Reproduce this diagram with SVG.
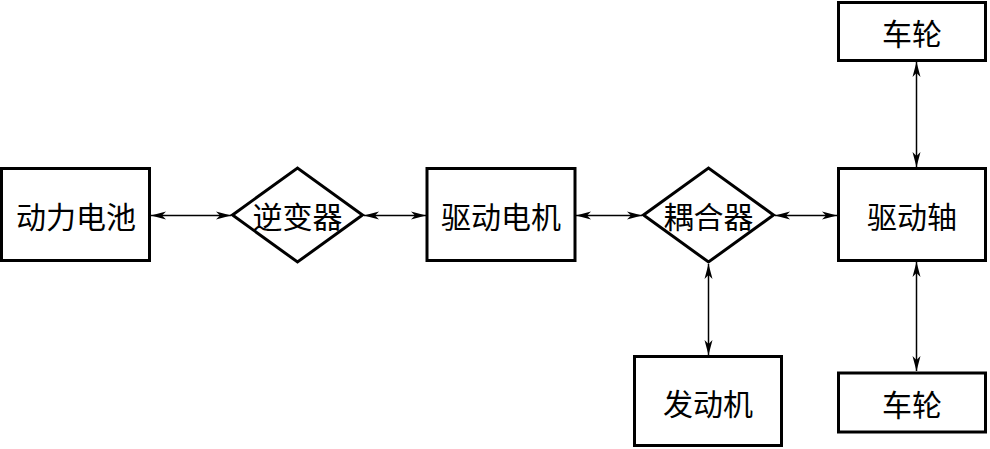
<svg xmlns="http://www.w3.org/2000/svg" width="990" height="449" viewBox="0 0 990 449">
<style>
.box{fill:#fff;stroke:#000;stroke-width:3}
.lbl{font-family:"Noto Sans CJK SC","Noto Sans CJK TC",sans-serif;font-size:30px;fill:#000;text-anchor:middle;dominant-baseline:central}
.con{stroke:#000;stroke-width:1.5;fill:none;marker-start:url(#ah);marker-end:url(#ah)}
</style>
<defs>
<marker id="ah" viewBox="0 -4.5 15 9" refX="15" refY="0" markerWidth="15" markerHeight="9" markerUnits="userSpaceOnUse" orient="auto-start-reverse">
<path d="M0,-4 L15,0 L0,4 L4,0 Z" fill="#000"/>
</marker>
</defs>
<rect width="990" height="449" fill="#fff"/>
<g id="connectors">
<line class="con" x1="151" y1="215.5" x2="231" y2="215.5"/>
<line class="con" x1="364" y1="215.5" x2="426" y2="215.5"/>
<line class="con" x1="576" y1="215.5" x2="642" y2="215.5"/>
<line class="con" x1="775" y1="215.5" x2="837" y2="215.5"/>
<line class="con" x1="916.5" y1="62" x2="916.5" y2="167"/>
<line class="con" x1="916.5" y1="262" x2="916.5" y2="371"/>
<line class="con" x1="708.5" y1="264" x2="708.5" y2="355"/>
</g>
<g id="battery">
<rect class="box" x="1.5" y="168.5" width="148" height="92"/>
<text class="lbl" x="76" y="215">动力电池</text>
</g>
<g id="inverter">
<polygon class="box" points="232.5,215 297.5,168 362.5,215 297.5,262"/>
<text class="lbl" x="297.5" y="215">逆变器</text>
</g>
<g id="motor">
<rect class="box" x="427" y="168.5" width="148" height="92"/>
<text class="lbl" x="501" y="215">驱动电机</text>
</g>
<g id="coupler">
<polygon class="box" points="643.5,215 708.5,168 773.5,215 708.5,262"/>
<text class="lbl" x="708.5" y="215">耦合器</text>
</g>
<g id="shaft">
<rect class="box" x="838.5" y="168.5" width="147" height="92"/>
<text class="lbl" x="912" y="215">驱动轴</text>
</g>
<g id="wheel-top">
<rect class="box" x="838.5" y="2.5" width="147" height="58"/>
<text class="lbl" x="912" y="32">车轮</text>
</g>
<g id="wheel-bottom">
<rect class="box" x="838.5" y="373" width="147" height="59"/>
<text class="lbl" x="912" y="403">车轮</text>
</g>
<g id="engine">
<rect class="box" x="634.5" y="356.5" width="147" height="89"/>
<text class="lbl" x="708" y="402">发动机</text>
</g>
</svg>
